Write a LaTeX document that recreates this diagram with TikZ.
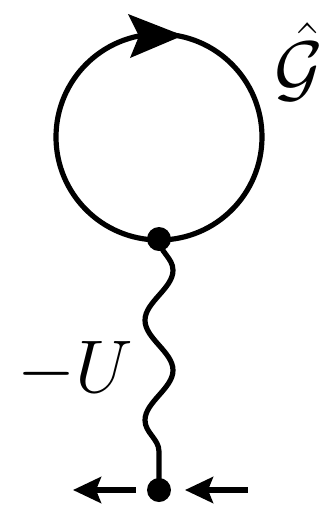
\documentclass[tikz,border=0pt]{standalone}
\usetikzlibrary{arrows.meta,decorations.pathmorphing}
\pgfdeclarelayer{background}
\pgfsetlayers{background,main}
\tikzset{
  line/.style={line width=2.6pt},
  vertex/.style={circle,fill=black,inner sep=0pt,minimum size=12pt},
  wavy/.style={line,decorate,decoration={snake,segment length=50pt,amplitude=7pt,pre length=0pt,post length=0pt}},
  extarrow/.style={line,-{Stealth[length=14pt,width=13pt,inset=2.5pt]}},
  lbl/.style={font=\huge,scale=1.8,inner sep=0pt,anchor=base}
}
\begin{document}
\begin{tikzpicture}[x=0.5pt,y=-0.5pt]
\useasboundingbox (0,0) rectangle (328,511);
% loop
\coordinate (c) at (159,137);
\draw[line] (c) circle[radius=51.5pt];
\fill (128,14) -- (183,35.5) -- (130,58) -- (139,36) -- cycle;
% vertices
\node[vertex] (v1) at (159,239) {};
\node[vertex] (v2) at (159,490) {};
\begin{pgfonlayer}{background}
\draw[wavy] (v1.center) -- (v2.center);
\end{pgfonlayer}
% external legs
\coordinate (la) at (136,490);
\coordinate (lb) at (73,490);
\coordinate (ra) at (248,490);
\coordinate (rb) at (185,490);
\draw[extarrow] (la) -- (lb);
\draw[extarrow] (ra) -- (rb);
% labels
\node[lbl] (U) at (75,392) {$-U$};
\node[lbl] (G) at (299,93) {$\hat{\mathcal{G}}$};
\end{tikzpicture}
\end{document}
